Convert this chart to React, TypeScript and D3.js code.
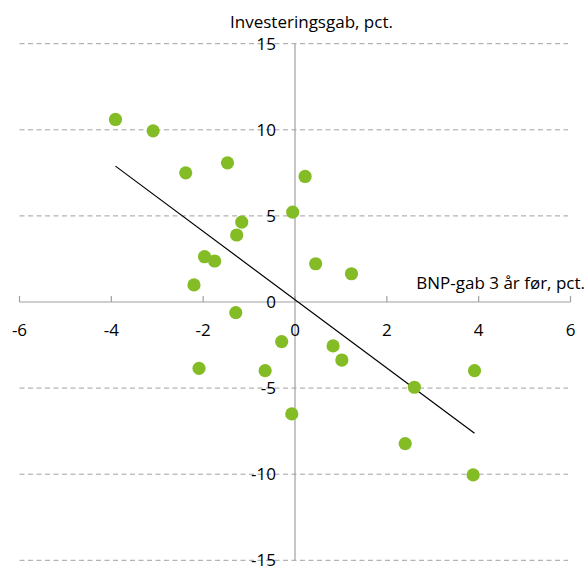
import React from "react";
import * as d3 from "d3";

const xValues = [-3.91, -3.09, -2.38, -1.47, 0.22, -0.05, -1.16, -1.27, -1.97, -1.75, 0.45, 1.23, -2.2, -1.29, -0.29, 0.83, 1.02, -2.09, -0.65, 3.91, 2.6, -0.07, 2.4, 3.88];
const yValues = [10.6, 9.94, 7.5, 8.08, 7.29, 5.22, 4.64, 3.89, 2.63, 2.38, 2.22, 1.64, 0.99, -0.62, -2.3, -2.55, -3.37, -3.85, -3.99, -3.99, -4.95, -6.5, -8.22, -10.04];
const trendX = [-3.91, 3.91];
const trendY = [7.89, -7.62];
const xTicks = [-6, -4, -2, 0, 2, 4, 6];
const yTicks = [15, 10, 5, 0, -5, -10, -15];
const xLabel = "BNP-gab 3 år før, pct.";
const yLabel = "Investeringsgab, pct.";

const W = 587;
const H = 568;
const FONT = "'Open Sans', 'Noto Sans', sans-serif";

export default function App() {
  const x = d3.scaleLinear().domain([-6, 6]).range([19.5, 570.5]);
  const y = d3.scaleLinear().domain([-15, 15]).range([560.3, 43.7]);
  const line = d3
    .line<number>()
    .x((d) => x(trendX[d]))
    .y((d) => y(trendY[d]));
  const gray = "#a0a0a0";
  return (
    <svg
      width={W}
      height={H}
      style={{ position: "absolute", left: 0, top: 0, fontFamily: FONT }}
    >
      {yTicks
        .filter((t) => t !== 0)
        .map((t) => (
          <line
            key={"g" + t}
            x1={x(-6)}
            x2={568}
            y1={y(t)}
            y2={y(t)}
            stroke={gray}
            strokeWidth={1}
            strokeDasharray="5,3.5"
          />
        ))}
      <line x1={x(0)} x2={x(0)} y1={y(15)} y2={y(-15)} stroke={gray} strokeWidth={1.2} />
      <line x1={x(-6)} x2={x(6)} y1={y(0)} y2={y(0)} stroke={gray} strokeWidth={1.2} />
      {xTicks.map((t) => (
        <line key={"t" + t} x1={x(t)} x2={x(t)} y1={y(0)} y2={y(0) - 6} stroke={gray} strokeWidth={1.2} />
      ))}
      {xTicks.map((t) => (
        <text key={"xl" + t} x={x(t)} y={336} textAnchor="middle" fontSize={17} fill="#000">
          {t < 0 ? "-" + Math.abs(t) : String(t)}
        </text>
      ))}
      {yTicks.map((t) => (
        <text
          key={"yl" + t}
          x={276}
          y={y(t)}
          dy="0.35em"
          textAnchor="end"
          fontSize={17}
          fill="#000"
        >
          {t < 0 ? "-" + Math.abs(t) : String(t)}
        </text>
      ))}
      <path d={line([0, 1]) || ""} stroke="#000" strokeWidth={1.2} fill="none" />
      {xValues.map((v, i) => (
        <circle key={"p" + i} cx={x(v)} cy={y(yValues[i])} r={6.6} fill="#84bc26" />
      ))}
      <text x={311.5} y={28} textAnchor="middle" fontSize={17} fill="#000">
        {yLabel}
      </text>
      <text x={585} y={288.5} textAnchor="end" fontSize={17} fill="#000">
        {xLabel}
      </text>
    </svg>
  );
}
